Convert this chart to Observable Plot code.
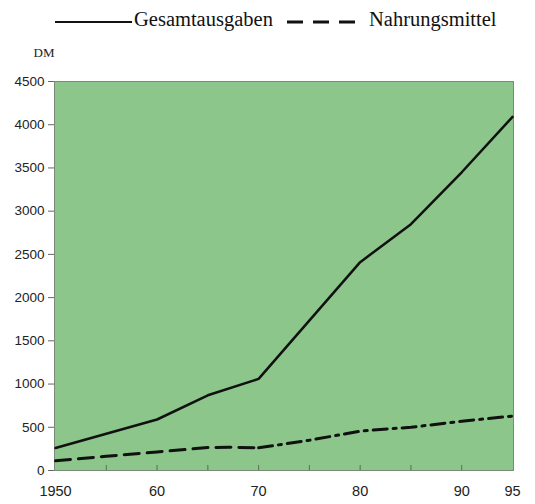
<!DOCTYPE html>
<html>
<head>
<meta charset="utf-8">
<script src="https://cdn.jsdelivr.net/npm/d3@7"></script>
<script src="https://cdn.jsdelivr.net/npm/@observablehq/plot@0.6"></script>
<style>
  html, body { margin: 0; padding: 0; background: #fff; }
  #wrap { width: 535px; position: relative; }
  #legend { position: relative; height: 40px; font-family: "Liberation Serif", "DejaVu Serif", serif; font-size: 20.5px; color: #111; }
  #legend .item { position: absolute; top: 8px; white-space: nowrap; }
  #legend .sw { position: absolute; top: 21px; height: 0; }
</style>
</head>
<body>
<div id="wrap">
  <div id="legend"></div>
  <div id="chart"></div>
</div>
<script>
// Series names
const seriesNames = ["Gesamtausgaben", "Nahrungsmittel"];

// Gesamtausgaben (DM)
const gesamtYears  = [1950, 1960, 1965, 1970, 1980, 1985, 1990, 1995];
const gesamtValues = [260, 590, 870, 1060, 2410, 2850, 3450, 4090];

// Nahrungsmittel (DM)
const nahrungYears  = [1950, 1955, 1960, 1965, 1967, 1970, 1975, 1980, 1982, 1985, 1990, 1995];
const nahrungValues = [112, 165, 215, 265, 270, 262, 350, 455, 475, 500, 570, 630];

// Axis ticks
const xTicks = [1950, 1960, 1970, 1980, 1990, 1995];
const xTickLabels = ["1950", "60", "70", "80", "90", "95"];
const xMinorTicks = [1955, 1960, 1965, 1970, 1975, 1980, 1985, 1990];
const yTicks = [0, 500, 1000, 1500, 2000, 2500, 3000, 3500, 4000, 4500];
const yUnit = "DM";

const gesamt = gesamtYears.map((y, i) => ({year: y, value: gesamtValues[i]}));
const nahrung = nahrungYears.map((y, i) => ({year: y, value: nahrungValues[i]}));
const nahrungEarly = nahrung.filter(d => d.year <= 1970);
const nahrungLate = nahrung.filter(d => d.year >= 1970);

// Legend
const legend = document.getElementById("legend");
legend.innerHTML = `
  <div class="sw" style="left:55px;width:77px;border-top:2px solid #111;"></div>
  <div class="item" style="left:134px;">${seriesNames[0]}</div>
  <svg style="position:absolute;left:287px;top:16px" width="72" height="12"><line x1="0" y1="6" x2="72" y2="6" stroke="#111" stroke-width="3" stroke-dasharray="16,10"/></svg>
  <div class="item" style="left:369px;">${seriesNames[1]}</div>
`;

const fmt = new Map(xTicks.map((t, i) => [t, xTickLabels[i]]));

const chart = Plot.plot({
  width: 535,
  height: 464,
  marginLeft: 54,
  marginRight: 22,
  marginTop: 41,
  marginBottom: 34,
  style: {fontFamily: "'Liberation Sans', Arial, sans-serif", color: "#222", background: "transparent"},
  x: {domain: [1950, 1995], insetLeft: 1, insetRight: 1},
  y: {domain: [0, 4500]},
  marks: [
    Plot.frame({fill: "#8cc68a", stroke: "#7a8a78", strokeWidth: 1}),
    Plot.axisY({ticks: yTicks, tickSize: 6, tickPadding: 4, label: null, fontSize: 13.5, tickFormat: d => String(d), stroke: "#666"}),
    Plot.axisX({ticks: xMinorTicks, tickSize: -5, text: null, label: null, stroke: "#444", strokeOpacity: 0.7}),
    Plot.axisX({ticks: xTicks, tickSize: 0, tickPadding: 15, label: null, fontSize: 14.5, tickFormat: d => fmt.get(d)}),
    Plot.text([yUnit], {frameAnchor: "top-left", dx: -21, dy: -34, textAnchor: "start", fontFamily: "'Liberation Serif', serif", fontSize: 13, fill: "#222"}),
    Plot.line(gesamt, {x: "year", y: "value", stroke: "#111", strokeWidth: 2.5}),
    Plot.line(nahrungEarly, {x: "year", y: "value", stroke: "#111", strokeWidth: 3, strokeDasharray: "15,8"}),
    Plot.line(nahrungLate, {x: "year", y: "value", stroke: "#111", strokeWidth: 3, strokeDasharray: "14,6,3,6"})
  ]
});
document.getElementById("chart").appendChild(chart);
</script>
</body>
</html>
